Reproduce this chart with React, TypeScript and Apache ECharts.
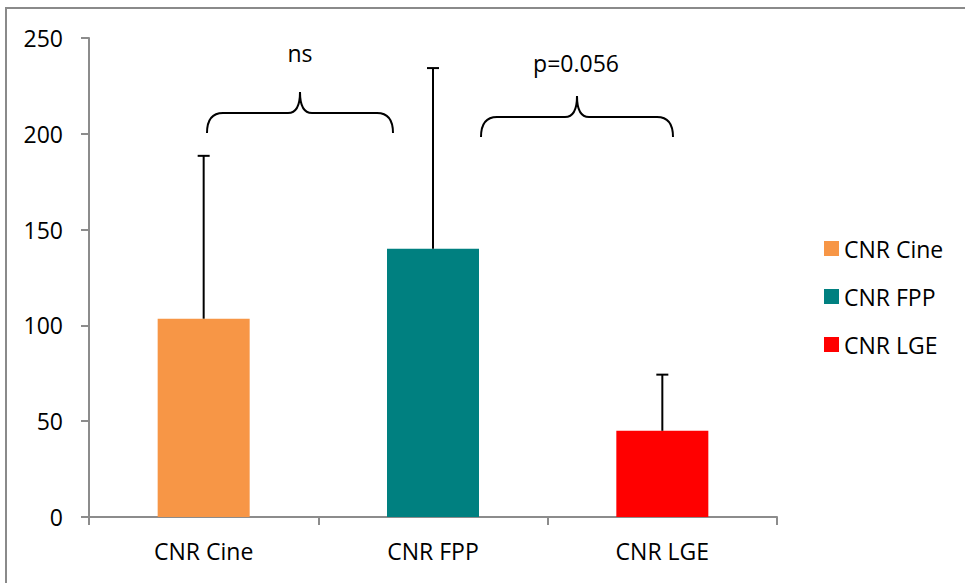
import React, { useEffect, useRef } from "react";
import * as echarts from "echarts";

const categories = ["CNR Cine", "CNR FPP", "CNR LGE"];
const means = [103.5, 140, 45];
const sds = [85, 94.3, 29.3];
const colors = ["#F79646", "#008080", "#FF0000"];
const yMin = 0;
const yMax = 250;
const yInterval = 50;
const annotations = ["ns", "p=0.056"];

const FONT = "'Open Sans', 'DejaVu Sans', sans-serif";
const FS = 23;

echarts.graphic.registerShape(
  "brace",
  echarts.graphic.extendShape({
    shape: { x1: 0, x2: 0, xc: 0, yb: 0, ym: 0, yt: 0, r: 16, rc: 12 },
    buildPath(ctx: any, s: any) {
      ctx.moveTo(s.x1, s.yb);
      ctx.quadraticCurveTo(s.x1, s.ym, s.x1 + s.r, s.ym);
      ctx.lineTo(s.xc - s.rc, s.ym);
      ctx.quadraticCurveTo(s.xc, s.ym, s.xc, s.yt);
      ctx.quadraticCurveTo(s.xc, s.ym, s.xc + s.rc, s.ym);
      ctx.lineTo(s.x2 - s.r, s.ym);
      ctx.quadraticCurveTo(s.x2, s.ym, s.x2, s.yb);
    },
  }) as any
);

export default function App() {
  const ref = useRef<HTMLDivElement>(null);

  useEffect(() => {
    if (!ref.current) return;
    const chart = echarts.init(ref.current, null, { renderer: "svg" });

    const barSeries = categories.map((name, i) => ({
      type: "bar",
      name,
      data: categories.map((_, j) => (j === i ? means[i] : "-")),
      barWidth: 92,
      barGap: "-100%",
      itemStyle: { color: colors[i] },
      z: 2,
    }));

    const errorSeries = {
      type: "custom",
      name: "error",
      data: means.map((m, i) => [i, m, m + sds[i]]),
      encode: { x: 0, y: [1, 2] },
      z: 10,
      renderItem: (params: any, api: any) => {
        const x = api.value(0);
        const p0 = api.coord([x, api.value(1)]);
        const p1 = api.coord([x, api.value(2)]);
        return {
          type: "group",
          children: [
            {
              type: "line",
              shape: { x1: p0[0], y1: p0[1], x2: p1[0], y2: p1[1] },
              style: { stroke: "#000", lineWidth: 2 },
            },
            {
              type: "line",
              shape: { x1: p1[0] - 6, y1: p1[1], x2: p1[0] + 6, y2: p1[1] },
              style: { stroke: "#000", lineWidth: 2 },
            },
          ],
        };
      },
    };

    chart.setOption({
      animation: false,
      backgroundColor: "#fff",
      textStyle: { fontFamily: FONT },
      grid: { left: 89, right: 188, top: 38, bottom: 66, containLabel: false },
      legend: {
        data: categories,
        orient: "vertical",
        left: 819,
        top: 232,
        itemWidth: 15,
        itemHeight: 15,
        itemGap: 25,
        icon: "rect",
        selectedMode: false,
        textStyle: { fontSize: FS, color: "#000", fontFamily: FONT },
      },
      xAxis: {
        type: "category",
        data: categories,
        axisLine: { lineStyle: { color: "#8c8c8c", width: 2 } },
        axisTick: { show: true, length: 8, lineStyle: { color: "#8c8c8c", width: 2 } },
        axisLabel: { fontSize: FS, color: "#000", margin: 22, fontFamily: FONT },
      },
      yAxis: {
        type: "value",
        min: yMin,
        max: yMax,
        interval: yInterval,
        axisLine: { show: true, lineStyle: { color: "#8c8c8c", width: 2 } },
        axisTick: { show: true, length: 8, lineStyle: { color: "#8c8c8c", width: 2 } },
        splitLine: { show: false },
        axisLabel: { fontSize: FS, color: "#000", margin: 26, fontFamily: FONT },
      },
      graphic: [
        {
          type: "rect",
          shape: { x: 6, y: 8, width: 1200, height: 800 },
          style: { fill: "none", stroke: "#8a8a8a", lineWidth: 2 },
          z: -10,
          silent: true,
        },
        {
          type: "brace",
          shape: { x1: 207, x2: 393, xc: 300, yb: 133, ym: 113, yt: 92, r: 16, rc: 12 },
          style: { fill: "none", stroke: "#000", lineWidth: 2 },
        },
        {
          type: "brace",
          shape: { x1: 481, x2: 673, xc: 577, yb: 137, ym: 117, yt: 96, r: 16, rc: 12 },
          style: { fill: "none", stroke: "#000", lineWidth: 2 },
        },
        {
          type: "text",
          x: 300,
          y: 53,
          style: {
            text: annotations[0],
            fontSize: FS,
            fontFamily: FONT,
            fill: "#000",
            textAlign: "center",
            textVerticalAlign: "middle",
          },
        },
        {
          type: "text",
          x: 576,
          y: 63,
          style: {
            text: annotations[1],
            fontSize: FS,
            fontFamily: FONT,
            fill: "#000",
            textAlign: "center",
            textVerticalAlign: "middle",
          },
        },
      ],
      series: [...barSeries, errorSeries],
    });

    return () => chart.dispose();
  }, []);

  return (
    <div style={{ position: "fixed", left: 0, top: 0, width: 965, height: 583, background: "#fff" }}>
      <div ref={ref} style={{ width: 965, height: 583 }} />
    </div>
  );
}
